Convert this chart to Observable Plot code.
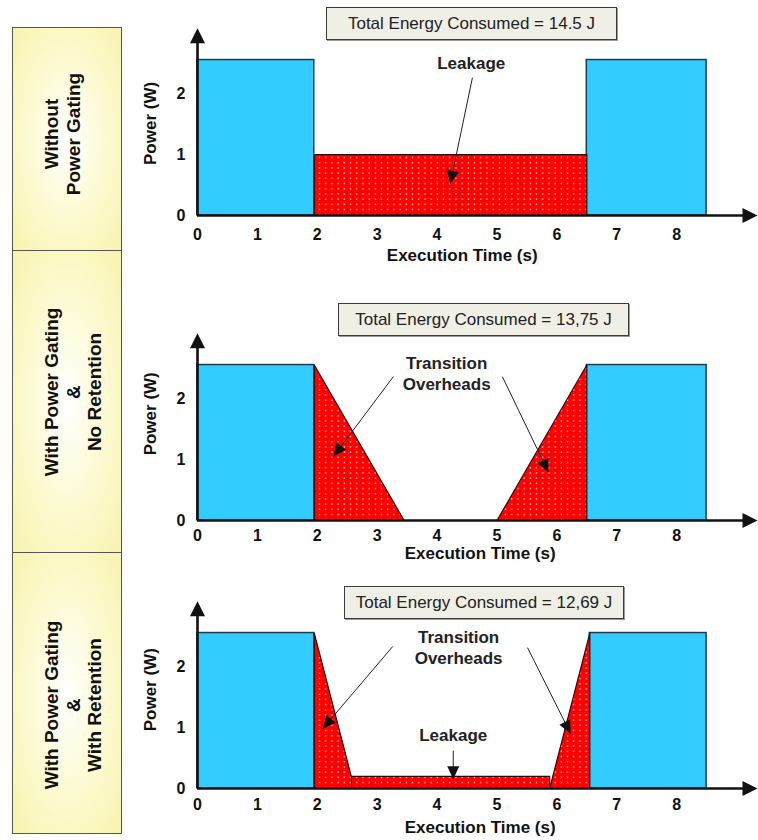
<!DOCTYPE html>
<html>
<head>
<meta charset="utf-8">
<script src="https://cdn.jsdelivr.net/npm/d3@7"></script>
<script src="https://cdn.jsdelivr.net/npm/@observablehq/plot@0.6"></script>
<style>
  html, body { margin: 0; padding: 0; background: #fff; }
  #root { position: relative; width: 758px; height: 840px; overflow: hidden; background: #fff;
          font-family: "Liberation Sans", Arial, Helvetica, sans-serif; }
  .rowbox { position: absolute; box-sizing: border-box; border: 1.5px solid #555;
            background: radial-gradient(ellipse at center, #ffffff 0%, #fdfbd6 45%, #f8f3ae 100%); }
  .rowtext { position: absolute; transform: translate(-50%, -50%) rotate(-90deg); white-space: nowrap;
             text-align: center; font-weight: bold; font-size: 19px; line-height: 21.5px; color: #111; }
  .energy { position: absolute; box-sizing: border-box; border: 1.5px solid #3a3a3a; background: #efefe6;
            box-shadow: 1px 1px 0 #9a9a9a; font-size: 17px; color: #222; display: flex;
            align-items: center; justify-content: center; white-space: nowrap; }
  .panel { position: absolute; left: 130px; }
</style>
</head>
<body>
<div id="root"></div>
<script>
// ---------------- DATA ----------------
const rowLabels = [
  ["Without", "Power Gating"],
  ["With Power Gating", "&", "No Retention"],
  ["With Power Gating", "&", "With Retention"]
];
const energyLabels = [
  "Total Energy Consumed = 14.5 J",
  "Total Energy Consumed = 13,75 J",
  "Total Energy Consumed = 12,69 J"
];
const xTicks = [0, 1, 2, 3, 4, 5, 6, 7, 8];
const yTicks = [0, 1, 2];
const xTitle = "Execution Time (s)";
const yTitle = "Power (W)";

// Active (blue) intervals per panel, seconds, and their power (W)
const activeStart = [[0, 6.5], [0, 6.5], [0, 6.55]];
const activeEnd   = [[1.95, 8.5], [1.95, 8.5], [1.95, 8.5]];
const activePower = [[2.55, 2.55], [2.55, 2.55], [2.55, 2.55]];

// Red (leakage / transition) outlines per panel: time and power vertices
const overheadT = [
  [[1.95, 1.95, 6.5, 6.5]],
  [[1.95, 1.95, 3.45], [5.0, 6.5, 6.5]],
  [[1.95, 1.95, 2.62], [2.57, 2.57, 5.88, 5.88], [5.88, 6.55, 6.55]]
];
const overheadP = [
  [[0, 1.0, 1.0, 0]],
  [[0, 2.55, 0], [0, 2.55, 0]],
  [[0, 2.55, 0], [0, 0.2, 0.2, 0], [0, 2.55, 0]]
];

// Annotation texts
const annotText = [["Leakage"], ["Transition\nOverheads"], ["Transition\nOverheads", "Leakage"]];

// ---------------- LAYOUT ----------------
const FONT = '"Liberation Sans", Arial, Helvetica, sans-serif';
const W = 628, ML = 67, MR = 1, MT = 12, MB = 50, IH = 189;
const X_MAX = 9.35, Y_MAX = 3.1;
const KX = (W - ML - MR) / X_MAX, KY = IH / Y_MAX;   // px per unit
const baselines = [215, 520, 788];
const tickPad = [13, 9, 10];
const xTitleAt = [4.42, 4.72, 4.72];
const xTitleOffset = [40, 33, 39];
const yTitleAt = [1.51, 1.75, 1.62];
const annotAtT = [[4.57], [4.16], [4.36, 4.27]];
const annotAtP = [[2.52], [2.42], [2.33, 0.89]];
const arrowFromT = [[4.59], [3.27, 5.09], [3.26, 5.51, 4.27]];
const arrowFromP = [[2.26], [2.36, 2.36], [2.33, 2.31, 0.62]];
const arrowToT   = [[4.22], [2.27, 5.86], [2.09, 6.23, 4.27]];
const arrowToP   = [[0.52], [1.05, 0.79], [0.98, 0.90, 0.15]];
const rowBoxes = [[27, 250], [250, 552], [552, 833]];
const rowTextY = [134, 392, 705];
const energyBoxes = [[326, 7, 291], [338, 303, 291], [344, 586, 280]];

const root = document.getElementById("root");

// Left row label boxes
rowLabels.forEach((lines, i) => {
  const b = document.createElement("div");
  b.className = "rowbox";
  Object.assign(b.style, {left: "12px", top: rowBoxes[i][0] + "px", width: "110px",
    height: (rowBoxes[i][1] - rowBoxes[i][0] + 1) + "px"});
  root.appendChild(b);
  const t = document.createElement("div");
  t.className = "rowtext";
  t.innerHTML = lines.join("<br>");
  Object.assign(t.style, {left: (51 + (lines.length - 1) * 21.5 / 2) + "px", top: rowTextY[i] + "px"});
  root.appendChild(t);
});

function patternMark(id) {
  return () => {
    const defs = d3.create("svg:defs");
    const p = defs.append("pattern").attr("id", id).attr("patternUnits", "userSpaceOnUse")
      .attr("width", 6.2).attr("height", 5.2);
    p.append("rect").attr("width", 6.2).attr("height", 5.2).attr("fill", "#ff0000");
    p.append("rect").attr("x", 2.4).attr("y", 2).attr("width", 1.3).attr("height", 1.3).attr("fill", "#ffe8e8");
    return defs.node();
  };
}

const rot = (x1, y1, x2, y2) => Math.atan2((x2 - x1) * KX, (y2 - y1) * KY) * 180 / Math.PI;

for (let i = 0; i < 3; i++) {
  const active = activeStart[i].map((s, k) => ({t1: s, t2: activeEnd[i][k], p: activePower[i][k]}));
  const poly = [];
  overheadT[i].forEach((ts, s) => {
    ts.forEach((t, k) => poly.push({shape: s, t, p: overheadP[i][s][k]}));
    poly.push({shape: s, t: ts[0], p: overheadP[i][s][0]});
  });
  const annots = annotText[i].map((text, k) => ({text, t: annotAtT[i][k], p: annotAtP[i][k]}));
  const arrows = arrowFromT[i].map((t, k) => ({
    x1: t, y1: arrowFromP[i][k], x2: arrowToT[i][k], y2: arrowToP[i][k],
    a: rot(t, arrowFromP[i][k], arrowToT[i][k], arrowToP[i][k])
  }));
  const axisHeads = [{x: 0, y: 3.07, a: 0}, {x: X_MAX, y: 0, a: 90}];
  const pid = "dots" + i;

  const chart = Plot.plot({
    width: W, height: MT + IH + MB,
    marginLeft: ML, marginRight: MR, marginTop: MT, marginBottom: MB,
    x: {domain: [0, X_MAX], axis: null},
    y: {domain: [0, Y_MAX], axis: null},
    style: {background: "transparent", fontFamily: FONT, fontSize: "16px", fontWeight: "bold",
            color: "#111", overflow: "visible"},
    marks: [
      patternMark(pid),
      Plot.rect(active, {x1: "t1", x2: "t2", y1: 0, y2: "p", fill: "#33ccff", stroke: "#1f3c4a", strokeWidth: 1.5}),
      Plot.line(poly, {x: "t", y: "p", z: "shape", fill: `url(#${pid})`, stroke: "#2a0a0a",
                       strokeWidth: 1.2, curve: "linear"}),
      Plot.ruleY([0], {x1: 0, x2: X_MAX - 0.1, stroke: "#111", strokeWidth: 2.6}),
      Plot.ruleX([0], {y1: 0, y2: 2.95, stroke: "#111", strokeWidth: 2.6}),
      Plot.vector(axisHeads, {x: "x", y: "y", rotate: "a", length: 15, r: 7.5, shape: "spike",
                              anchor: "end", fill: "#111", stroke: "none"}),
      Plot.axisX({ticks: xTicks, tickFormat: d => String(d), tickSize: 0, tickPadding: tickPad[i], label: null,
                  fontSize: 16, fontWeight: "bold", fill: "#111"}),
      Plot.axisY({ticks: yTicks, tickFormat: d => String(d), tickSize: 0, tickPadding: 12, label: null,
                  fontSize: 16, fontWeight: "bold", fill: "#111"}),
      Plot.text([xTitle], {x: xTitleAt[i], y: 0, dy: xTitleOffset[i], text: d => d,
                           fontSize: 17, fontWeight: "bold", fill: "#111"}),
      Plot.text([yTitle], {x: 0, y: yTitleAt[i], dx: -47, rotate: -90, text: d => d,
                           fontSize: 17, fontWeight: "bold", fill: "#111"}),
      Plot.link(arrows, {x1: "x1", y1: "y1", x2: "x2", y2: "y2", stroke: "#222", strokeWidth: 1}),
      Plot.vector(arrows, {x: "x2", y: "y2", rotate: "a", length: 13, r: 6, shape: "spike",
                           anchor: "end", fill: "#111", stroke: "none"}),
      Plot.text(annots, {x: "t", y: "p", text: "text", fontSize: 17, fontWeight: "bold",
                         lineHeight: 1.25, fill: "#222"})
    ]
  });
  chart.classList.add("panel");
  chart.style.top = (baselines[i] - IH - MT) + "px";
  root.appendChild(chart);
}

// Energy boxes (titles)
energyLabels.forEach((txt, i) => {
  const e = document.createElement("div");
  e.className = "energy";
  const [l, t, w] = energyBoxes[i];
  Object.assign(e.style, {left: l + "px", top: t + "px", width: w + "px", height: "33px"});
  e.textContent = txt;
  root.appendChild(e);
});
</script>
</body>
</html>
